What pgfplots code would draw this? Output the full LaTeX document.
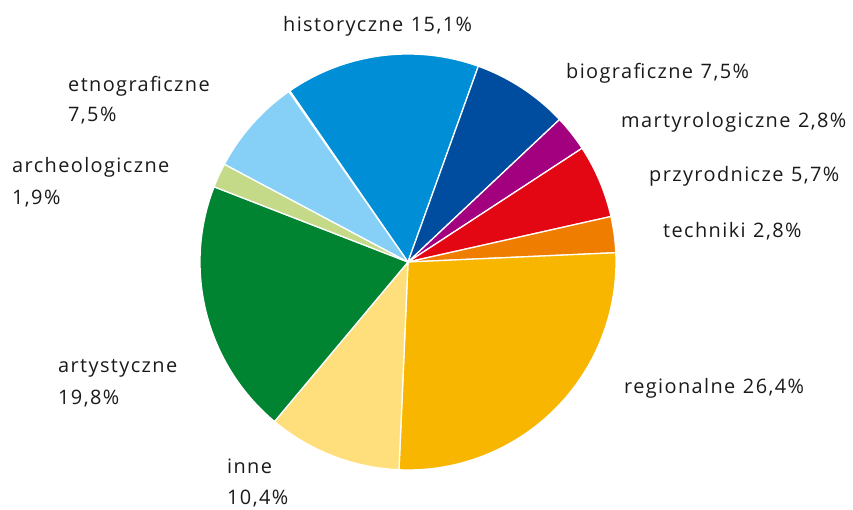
\documentclass[border=0pt]{standalone}
\usepackage{pgfplots}
\pgfplotsset{compat=1.18}
\usepackage{fontspec}
\setmainfont{Open Sans}[LetterSpace=7,WordSpace=1.15]

\definecolor{cHist}{HTML}{008FD7}
\definecolor{cBio}{HTML}{004C9E}
\definecolor{cMart}{HTML}{A2007E}
\definecolor{cPrzy}{HTML}{E30613}
\definecolor{cTech}{HTML}{EE7D00}
\definecolor{cReg}{HTML}{F8B600}
\definecolor{cInne}{HTML}{FEDF7B}
\definecolor{cArt}{HTML}{008432}
\definecolor{cArch}{HTML}{C4DA88}
\definecolor{cEtno}{HTML}{86CFF6}
\definecolor{txt}{HTML}{1A1A1A}

\begin{document}
\begin{tikzpicture}
\begin{axis}[
    x=1bp, y=1bp,
    xmin=0, xmax=853, ymin=0, ymax=510,
    hide axis,
    anchor=origin, at={(0,0)},
    clip=false,
]
% share of each museum type (%), clockwise from the top
\gdef\cum{0}
\foreach \v/\c in {15.1/cHist, 7.5/cBio, 2.8/cMart, 5.7/cPrzy, 2.8/cTech,
                   26.4/cReg, 10.4/cInne, 19.8/cArt, 1.9/cArch, 7.5/cEtno}{
    \pgfmathsetmacro\a{124.6-3.6*\cum}
    \pgfmathsetmacro\b{124.6-3.6*(\cum+\v)}
    \edef\temp{\noexpand\filldraw[fill=\c, draw=white, line width=1.3pt, line join=round]
        (axis cs:408,248) -- ++(\a:208bp) arc[start angle=\a, end angle=\b, radius=208bp] -- cycle;}
    \temp
    \pgfmathsetmacro\n{\cum+\v}
    \xdef\cum{\n}
}

\tikzset{lbl/.style={anchor=base west, inner sep=0pt, font=\fontsize{20}{32}\selectfont, text=txt}}
\node[lbl] at (axis cs:283,478) {historyczne 15,1\%};
\node[lbl] at (axis cs:566,431) {biograficzne 7,5\%};
\node[lbl] at (axis cs:621,382) {martyrologiczne 2,8\%};
\node[lbl] at (axis cs:649,328) {przyrodnicze 5,7\%};
\node[lbl] at (axis cs:663,272) {techniki 2,8\%};
\node[lbl] at (axis cs:624,116) {regionalne 26,4\%};
\node[lbl] at (axis cs:227,36) {inne};
\node[lbl] at (axis cs:227,5) {10,4\%};
\node[lbl] at (axis cs:58,137) {artystyczne};
\node[lbl] at (axis cs:58,105) {19,8\%};
\node[lbl] at (axis cs:12,337) {archeologiczne};
\node[lbl] at (axis cs:12,305) {1,9\%};
\node[lbl] at (axis cs:68,418) {etnograficzne};
\node[lbl] at (axis cs:68,388) {7,5\%};
\end{axis}
\useasboundingbox (0,0) rectangle (853bp,510bp);
\end{tikzpicture}
\end{document}
